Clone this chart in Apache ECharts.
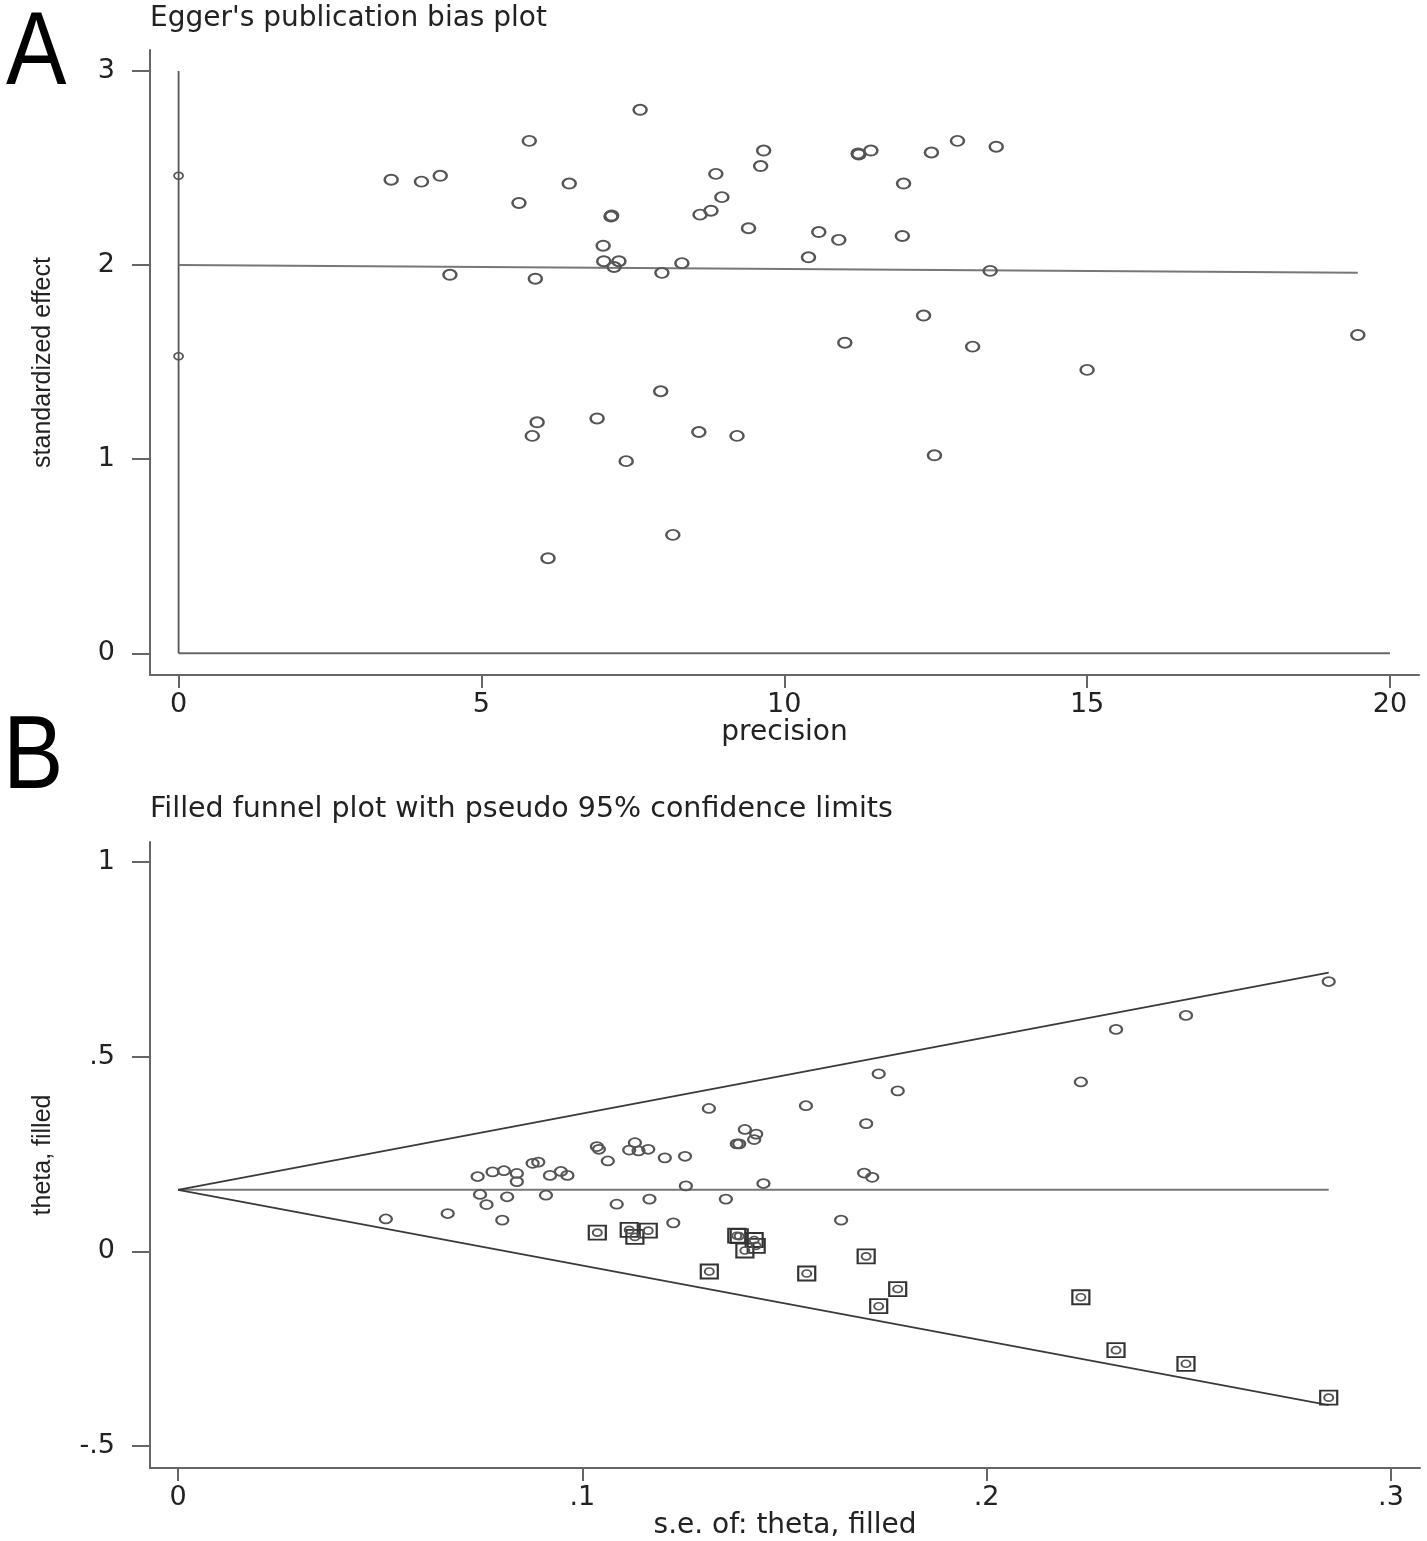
<!DOCTYPE html>
<html>
<head>
<meta charset="utf-8">
<script src="https://cdn.jsdelivr.net/npm/echarts@6/dist/echarts.min.js"></script>
<style>
html,body{margin:0;padding:0;background:#fff;}
#chart{width:1427px;height:1541px;}
</style>
</head>
<body>
<div id="chart"></div>
<script>
// ---------- Panel A : Egger's publication bias plot ----------
var eggPrecision = [3.51,4.01,4.32,4.48,5.62,5.79,5.89,5.84,5.92,6.10,6.45,6.91,7.01,7.02,7.14,7.15,7.19,7.27,7.39,7.62,7.96,7.98,8.16,8.31,8.59,8.61,8.79,8.87,8.97,9.22,9.41,9.61,9.66,10.40,10.57,10.90,11.00,11.23,11.22,11.43,11.97,11.95,12.30,12.43,12.48,12.86,13.11,13.40,13.50,15.00,19.47];
var eggEffect    = [2.44,2.43,2.46,1.95,2.32,2.64,1.93,1.12,1.19,0.49,2.42,1.21,2.10,2.02,2.25,2.255,1.99,2.02,0.99,2.80,1.35,1.96,0.61,2.01,1.14,2.26,2.28,2.47,2.35,1.12,2.19,2.51,2.59,2.04,2.17,2.13,1.60,2.57,2.575,2.59,2.42,2.15,1.74,2.58,1.02,2.64,1.58,1.97,2.61,1.46,1.64];
var eggCiX = [0, 0];
var eggCiY = [2.46, 1.53];
var eggFitX = [0, 19.47];
var eggFitY = [2.00, 1.96];
var eggVertX = [0, 0];
var eggVertY = [0, 3];
var eggHorzX = [0, 20];
var eggHorzY = [0, 0];
var eggXTicks = [0, 5, 10, 15, 20];
var eggXTickLabels = ['0', '5', '10', '15', '20'];
var eggYTicks = [0, 1, 2, 3];
var eggYTickLabels = ['0', '1', '2', '3'];

// ---------- Panel B : Filled funnel plot ----------
var funSe    = [0.0514,0.0667,0.0741,0.0778,0.0806,0.0838,0.0838,0.0747,0.0763,0.0814,0.0802,0.0877,0.0891,0.0920,0.0947,0.0963,0.0910,0.1036,0.1041,0.1063,0.1116,0.1130,0.1139,0.1163,0.1085,0.1166,0.1204,0.1254,0.1256,0.1225,0.1313,0.1355,0.1382,0.1388,0.1402,0.1430,0.1425,0.1448,0.1553,0.1640,0.1733,0.1780,0.1702,0.1697,0.1717,0.2233,0.2320,0.2493,0.2846];
var funTheta = [0.083,0.097,0.192,0.204,0.207,0.200,0.179,0.146,0.120,0.140,0.080,0.226,0.229,0.195,0.205,0.195,0.144,0.269,0.262,0.232,0.260,0.279,0.258,0.262,0.121,0.134,0.240,0.244,0.168,0.073,0.367,0.134,0.276,0.276,0.313,0.301,0.287,0.174,0.374,0.080,0.456,0.412,0.328,0.201,0.190,0.435,0.570,0.606,0.693];
var filledSe    = [0.1037,0.1116,0.1130,0.1163,0.1314,0.1382,0.1388,0.1402,0.1430,0.1425,0.1555,0.1702,0.1733,0.1780,0.2233,0.2320,0.2493,0.2846];
var filledTheta = [0.048,0.055,0.037,0.053,-0.052,0.040,0.039,0.002,0.014,0.029,-0.057,-0.013,-0.141,-0.097,-0.118,-0.254,-0.289,-0.376];
var pooledX = [0, 0.2846];
var pooledY = [0.158, 0.158];
var upperX = [0, 0.2846];
var upperY = [0.158, 0.716];
var lowerX = [0, 0.2846];
var lowerY = [0.158, -0.395];
var funXTicks = [0, 0.1, 0.2, 0.3];
var funXTickLabels = ['0', '.1', '.2', '.3'];
var funYTicks = [-0.5, 0, 0.5, 1];
var funYTickLabels = ['-.5', '0', '.5', '1'];

function zip(xs, ys) { return xs.map(function (x, i) { return [x, ys[i]]; }); }
function labelFor(ticks, labels) {
  return function (v) {
    for (var i = 0; i < ticks.length; i++) { if (Math.abs(ticks[i] - v) < 1e-9) return labels[i]; }
    return '';
  };
}

var AX = '#666';
var TXT = '#222';
var tickFont = { fontFamily: 'DejaVu Sans', fontSize: 27, color: TXT };
var nameFontH = { fontFamily: 'DejaVu Sans', fontSize: 28, color: TXT };
var nameFontV = { fontFamily: 'Liberation Sans', fontSize: 25, color: TXT };

function xAxisDef(grid, min, max, ticks, labels, name) {
  return {
    type: 'value', gridIndex: grid, min: min, max: max, name: name,
    nameLocation: 'middle', nameGap: 39, nameTextStyle: nameFontH,
    axisLine: { show: true, onZero: false, lineStyle: { color: AX, width: 2 } },
    axisTick: { show: true, inside: false, length: 13, customValues: ticks, lineStyle: { color: AX, width: 2 } },
    axisLabel: Object.assign({ show: true, margin: 16, customValues: ticks, formatter: labelFor(ticks, labels) }, tickFont),
    splitLine: { show: false }
  };
}
function yAxisDef(grid, min, max, ticks, labels, name) {
  return {
    type: 'value', gridIndex: grid, min: min, max: max, name: name,
    nameLocation: 'middle', nameGap: 94, nameTextStyle: nameFontV,
    axisLine: { show: true, onZero: false, lineStyle: { color: AX, width: 2 } },
    axisTick: { show: true, inside: false, length: 18, customValues: ticks, lineStyle: { color: AX, width: 2 } },
    axisLabel: Object.assign({ show: true, margin: 35, customValues: ticks, formatter: labelFor(ticks, labels) }, tickFont),
    splitLine: { show: false }
  };
}
function lineSeries(xi, yi, xs, ys, color, width) {
  return {
    type: 'line', xAxisIndex: xi, yAxisIndex: yi, data: zip(xs, ys), symbol: 'none',
    lineStyle: { color: color, width: width }, silent: true, z: 2
  };
}
function scatterSeries(xi, yi, xs, ys, symbol, size, color, bw, z) {
  return {
    type: 'scatter', xAxisIndex: xi, yAxisIndex: yi, data: zip(xs, ys), symbol: symbol, symbolSize: size,
    itemStyle: { color: 'rgba(0,0,0,0)', borderColor: color, borderWidth: bw, opacity: 1 },
    silent: true, z: z
  };
}

var chart = echarts.init(document.getElementById('chart'), null, { renderer: 'canvas' });
chart.setOption({
  animation: false,
  backgroundColor: '#fff',
  title: [
    { text: "Egger's publication bias plot", left: 150, top: 5, padding: 0,
      textStyle: { fontFamily: 'DejaVu Sans', fontSize: 28, fontWeight: 'normal', color: TXT } },
    { text: 'Filled funnel plot with pseudo 95% confidence limits', left: 150, top: 795, padding: 0,
      textStyle: { fontFamily: 'DejaVu Sans', fontSize: 28.5, fontWeight: 'normal', color: TXT } }
  ],
  graphic: [
    { type: 'text', x: 6, y: 56, scaleX: 0.88, style: { text: 'A', fontFamily: 'Liberation Sans', fontSize: 103, fill: '#000', align: 'left', verticalAlign: 'middle' } },
    { type: 'text', x: 3, y: 760, scaleX: 0.88, style: { text: 'B', fontFamily: 'Liberation Sans', fontSize: 103, fill: '#000', align: 'left', verticalAlign: 'middle' } }
  ],
  grid: [
    { left: 150, top: 50, width: 1269, height: 625, containLabel: false },
    { left: 150, top: 842, width: 1270, height: 626, containLabel: false }
  ],
  xAxis: [
    xAxisDef(0, -0.472, 20.48, eggXTicks, eggXTickLabels, 'precision'),
    xAxisDef(1, -0.00693, 0.30718, funXTicks, funXTickLabels, 's.e. of: theta, filled')
  ],
  yAxis: [
    yAxisDef(0, -0.1118, 3.108, eggYTicks, eggYTickLabels, 'standardized effect'),
    yAxisDef(1, -0.5567, 1.0514, funYTicks, funYTickLabels, 'theta, filled')
  ],
  series: [
    lineSeries(0, 0, eggVertX, eggVertY, '#555', 1.8),
    lineSeries(0, 0, eggHorzX, eggHorzY, '#666', 2),
    lineSeries(0, 0, eggFitX, eggFitY, '#777', 2),
    scatterSeries(0, 0, eggCiX, eggCiY, 'circle', [9, 7], '#555', 1.6, 4),
    scatterSeries(0, 0, eggPrecision, eggEffect, 'circle', [13, 10], '#555', 2.2, 5),

    lineSeries(1, 1, pooledX, pooledY, '#777', 2),
    lineSeries(1, 1, upperX, upperY, '#3a3a3a', 1.8),
    lineSeries(1, 1, lowerX, lowerY, '#3a3a3a', 1.8),
    scatterSeries(1, 1, funSe, funTheta, 'circle', [12, 9], '#555', 2, 5),
    scatterSeries(1, 1, filledSe, filledTheta, 'rect', [17, 14], '#333', 2, 6),
    scatterSeries(1, 1, filledSe, filledTheta, 'circle', [9, 7], '#555', 1.8, 7)
  ]
});
</script>
</body>
</html>
